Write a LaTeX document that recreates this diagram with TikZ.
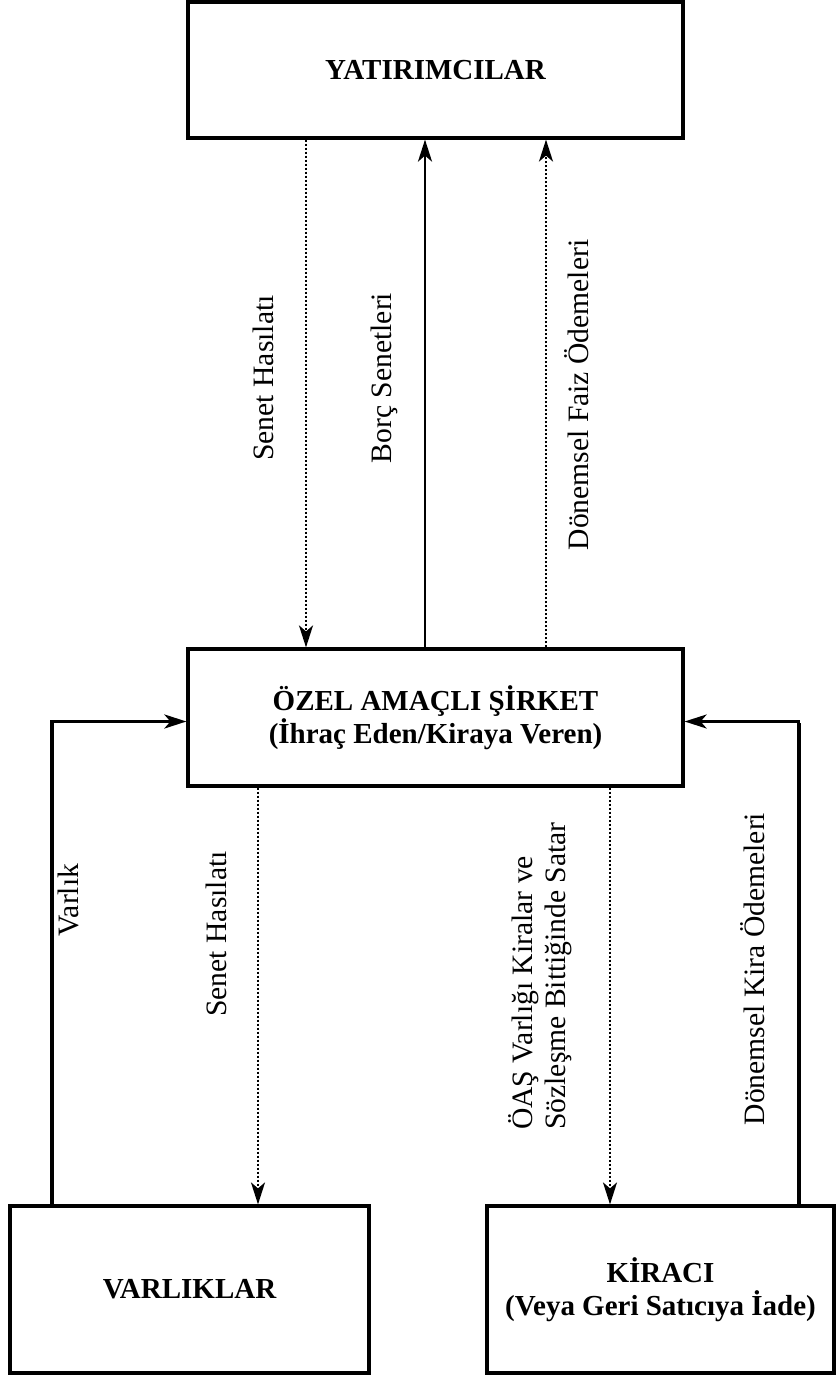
\documentclass[tikz,border=0pt]{standalone}
\usepackage{fontspec}
\setmainfont{Liberation Serif}
\usetikzlibrary{arrows.meta}
\begin{document}
\begin{tikzpicture}[x=0.5pt,y=-0.5pt]
        \tikzstyle{party}=[draw=black,line width=1.6pt,align=center,inner sep=0pt,font=\fontsize{14.5}{16.5}\selectfont\bfseries]
        \tikzstyle{flowlabel}=[rotate=90,align=left,inner sep=0pt,font=\fontsize{14.8}{16.5}\selectfont]
        \tikzstyle{flow}=[draw,line width=1.3pt,-{Stealth[length=11pt,width=7pt,inset=3pt]}]
        \tikzstyle{dotflow}=[flow,line width=1pt,dash pattern=on 1pt off 1pt]
       \useasboundingbox (0,0) rectangle (836,1375);
       \begin{scope}
         \node [party,minimum width=247.5pt,minimum height=68pt] (yat) at (435.5,70) {YATIRIMCILAR};
         \node [party,minimum width=247.5pt,minimum height=68.5pt] (oas) at (435.5,717.5) {ÖZEL AMAÇLI ŞİRKET\\(İhraç Eden/Kiraya Veren)};
         \node [party,minimum width=179.5pt,minimum height=83.5pt] (varliklar) at (189.5,1289.5) {VARLIKLAR};
         \node [party,minimum width=173.5pt,minimum height=83.5pt] (kiraci) at (660.5,1289.5) {KİRACI\\(Veya Geri Satıcıya İade)};
         \coordinate (sh1) at (306,0);
         \coordinate (borc) at (425,0);
         \coordinate (faiz) at (546,0);
         \coordinate (vx) at (52,0);
         \coordinate (sh2) at (258,0);
         \coordinate (kira) at (610,0);
         \coordinate (kx) at (799,0);
         \draw[dotflow] (sh1 |- yat.south) -- (sh1 |- oas.north);
         \draw[flow] (borc |- oas.north) -- (borc |- yat.south);
         \draw[dotflow] (faiz |- oas.north) -- (faiz |- yat.south);
         \draw[flow,line width=1.6pt] (vx |- varliklar.north) |- ([yshift=-2pt]oas.west);
         \draw[dotflow] (sh2 |- oas.south) -- (sh2 |- varliklar.north);
         \draw[dotflow] (kira |- oas.south) -- (kira |- kiraci.north);
         \draw[flow] (kx |- kiraci.north) |- ([yshift=-2pt]oas.east);
         \draw[line width=2.2pt] (kx |- kiraci.north) -- ([yshift=-2.6pt]kx |- oas.east);
         \node [flowlabel] (l1) at (263,378) {Senet Hasılatı};
         \node [flowlabel] (l2) at (384,378) {Borç Senetleri};
         \node [flowlabel] (l3) at (577,395) {Dönemsel Faiz Ödemeleri};
         \node [flowlabel] (l4) at (68,900) {Varlık};
         \node [flowlabel] (l5) at (216,934) {Senet Hasılatı};
         \node [flowlabel] (l6) at (540,976) {ÖAŞ Varlığı Kiralar ve\\Sözleşme Bittiğinde Satar};
         \node [flowlabel] (l7) at (753,969) {Dönemsel Kira Ödemeleri};
        \end{scope}
\end{tikzpicture}
\end{document}
